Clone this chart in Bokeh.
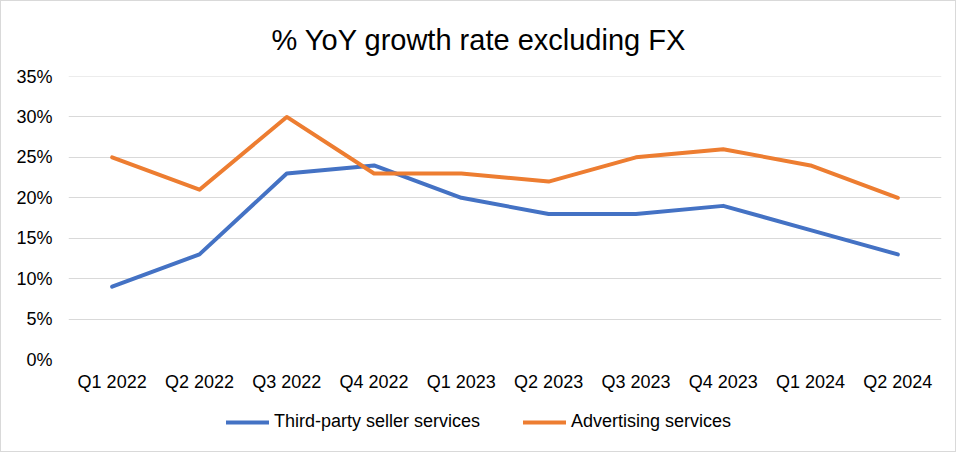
from bokeh.plotting import figure
from bokeh.layouts import column
from bokeh.models import FactorRange, NumeralTickFormatter, SingleIntervalTicker, Legend, LegendItem, Range1d
from bokeh.embed import file_html
from bokeh.resources import INLINE

quarters = ["Q1 2022", "Q2 2022", "Q3 2022", "Q4 2022", "Q1 2023",
            "Q2 2023", "Q3 2023", "Q4 2023", "Q1 2024", "Q2 2024"]
third_party = [0.09, 0.13, 0.23, 0.24, 0.20, 0.18, 0.18, 0.19, 0.16, 0.13]
advertising = [0.25, 0.21, 0.30, 0.23, 0.23, 0.22, 0.25, 0.26, 0.24, 0.20]
series_names = ["Third-party seller services", "Advertising services"]
colors = ["#4472C4", "#ED7D31"]

FONT = "Liberation Sans"

p = figure(width=956, height=400, x_range=FactorRange(*quarters, range_padding=0),
           y_range=Range1d(0, 0.350001), output_backend="svg", toolbar_location=None,
           min_border_left=68, min_border_right=15, min_border_top=75, min_border_bottom=41,
           title="% YoY growth rate excluding FX")
p.border_fill_color = None
p.background_fill_color = "white"

p.title.text_font = FONT
p.title.text_font_size = "29px"
p.title.text_font_style = "normal"
p.title.text_color = "#000000"
p.title.align = "left"
p.title.offset = 203
p.title.standoff = 42

p.outline_line_color = None
p.xgrid.grid_line_color = None
p.ygrid.grid_line_color = "#D9D9D9"
p.ygrid.grid_line_width = 1
p.yaxis.ticker = SingleIntervalTicker(interval=0.05)
p.yaxis.formatter = NumeralTickFormatter(format="0%")

for ax in (p.xaxis, p.yaxis):
    ax.axis_line_color = None
    ax.major_tick_line_color = None
    ax.minor_tick_line_color = None
    ax.major_tick_out = 0
    ax.major_tick_in = 0
    ax.major_label_text_font = FONT
    ax.major_label_text_font_size = "18px"
    ax.major_label_text_color = "#000000"
p.yaxis.major_label_standoff = 12
p.xaxis.major_label_standoff = 12

p.line(quarters, third_party, line_color=colors[0], line_width=4,
       line_join="round", line_cap="round")
p.line(quarters, advertising, line_color=colors[1], line_width=4,
       line_join="round", line_cap="round")

# legend strip below the chart (its frame is aligned with the chart's frame)
p2 = figure(width=956, height=52, x_range=Range1d(0, 1), y_range=Range1d(0, 1),
            output_backend="svg", toolbar_location=None, x_axis_type=None, y_axis_type=None,
            min_border_left=0, min_border_right=0, min_border_top=0, min_border_bottom=0)
p2.border_fill_color = None
p2.background_fill_color = None
p2.outline_line_color = None
p2.xgrid.grid_line_color = None
p2.ygrid.grid_line_color = None
l1 = p2.line(x=[-5, -4], y=[-5, -4], line_color=colors[0], line_width=4, line_cap="round")
l2 = p2.line(x=[-5, -4], y=[-5, -4], line_color=colors[1], line_width=4, line_cap="round")

legend = Legend(items=[LegendItem(label=series_names[0], renderers=[l1]),
                       LegendItem(label=series_names[1], renderers=[l2])],
                orientation="horizontal", location=(158, 20))
legend.label_text_font = FONT
legend.label_text_font_size = "18px"
legend.label_text_color = "#000000"
legend.glyph_width = 43
legend.glyph_height = 20
legend.label_standoff = 5
legend.spacing = 43
legend.border_line_color = None
legend.background_fill_alpha = 0
legend.padding = 0
legend.margin = 0
p2.add_layout(legend, "center")

layout = column(p, p2, spacing=0)
layout.styles = {"box-shadow": "inset 0 0 0 1px #D9D9D9"}

open("out.html", "w").write(file_html(layout, INLINE))
